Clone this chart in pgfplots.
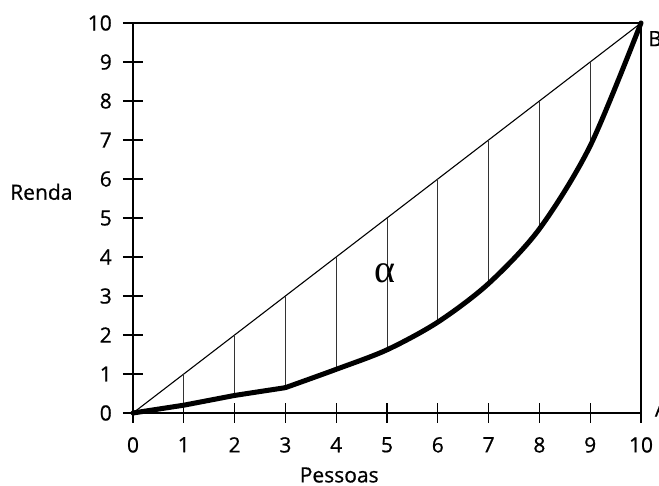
\documentclass[border=0pt]{standalone}
\usepackage{fontspec}
\setmainfont{Open Sans}[FakeBold=0.7]
\newfontfamily\alphafont{Liberation Serif}
\usepackage{pgfplots}
\pgfplotsset{compat=1.18}
\begin{document}
\begin{tikzpicture}
\path[use as bounding box, clip] (-133pt,-73pt) rectangle (526pt,413pt);
\begin{axis}[
  anchor=origin, at={(0pt,0pt)},
  scale only axis, width=508pt, height=390pt,
  xmin=0, xmax=10, ymin=0, ymax=10,
  xtick={0,...,10}, ytick={0,...,10},
  tick pos=left, tick align=center,
  major tick length=20pt,
  every tick/.style={black, line width=1.1pt},
  axis line style={line width=1.2pt},
  clip=false,
  /pgf/number format/assume math mode=true,
  tick label style={font=\fontsize{21}{24}\selectfont, inner sep=0pt},
  yticklabel style={anchor=east, xshift=-11pt},
  xticklabel style={anchor=north, yshift=-14pt},
  xlabel={Pessoas}, ylabel={Renda},
  label style={font=\fontsize{21}{24}\selectfont, inner sep=0pt},
  xlabel style={at={(axis description cs:0.406,-0.139)}, anchor=north},
  ylabel style={rotate=-90, at={(axis description cs:-0.242,0.567)}, anchor=west},
]
% equality line
\addplot[black, line width=1.1pt] coordinates {(0,0) (10,10)};
% hatch lines
\addplot[black!80, line width=0.8pt] coordinates {(1,1) (1,0.2)};
\addplot[black!80, line width=0.8pt] coordinates {(2,2) (2,0.45)};
\addplot[black!80, line width=0.8pt] coordinates {(3,3) (3,0.65)};
\addplot[black!80, line width=0.8pt] coordinates {(4,4) (4,1.12)};
\addplot[black!80, line width=0.8pt] coordinates {(5,5) (5,1.62)};
\addplot[black!80, line width=0.8pt] coordinates {(6,6) (6,2.33)};
\addplot[black!80, line width=0.8pt] coordinates {(7,7) (7,3.32)};
\addplot[black!80, line width=0.8pt] coordinates {(8,8) (8,4.72)};
\addplot[black!80, line width=0.8pt] coordinates {(9,9) (9,6.85)};
% Lorenz curve
\addplot[black, line width=5pt, line cap=round, line join=round] coordinates {(0,0) (1,0.2) (2,0.45) (3,0.65)};
\addplot[black, line width=5pt, line cap=round, line join=round, smooth, tension=0.5] coordinates {(3,0.65) (4,1.12) (5,1.62) (6,2.33) (7,3.32) (8,4.72) (9,6.85) (10,10)};
\node[font=\fontsize{40}{40}\selectfont\alphafont] at (axis cs:4.96,3.59) {α};
\node[font=\fontsize{21}{24}\selectfont, anchor=west, inner sep=0pt] at (axis cs:10.14,9.6) {B};
\node[font=\fontsize{21}{24}\selectfont, anchor=west, inner sep=0pt] at (axis cs:10.27,0.1) {A};
\end{axis}
\end{tikzpicture}
\end{document}
